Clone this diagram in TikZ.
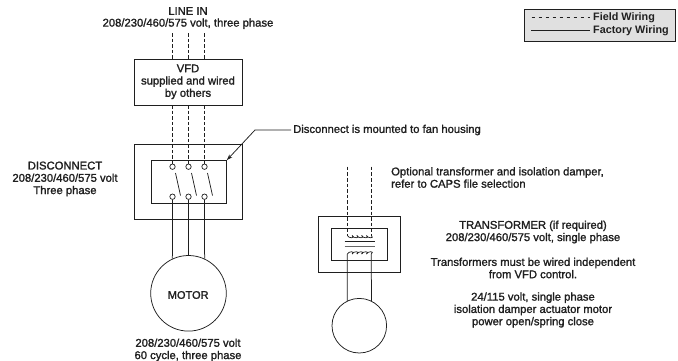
\documentclass[tikz,border=0pt]{standalone}
\usepackage{fontspec}
\setmainfont[FakeBold=1.5]{Liberation Sans}
\newfontfamily\legfont{Liberation Sans}
\usetikzlibrary{arrows.meta,calc}
\colorlet{ink}{black!88}
\tikzset{x=1pt,y=-1pt,
 wire/.style={line width=0.75pt,ink},
 fwire/.style={wire,dash pattern=on 3.6pt off 2pt},
 boxs/.style={draw=ink,line width=0.75pt,rectangle,inner sep=0pt},
 term/.style={circle,draw=ink,line width=0.7pt,fill=white,minimum size=5.4pt,inner sep=0pt},
 lab/.style={font=\fontsize{11.25}{12.3}\selectfont,text=ink,align=center,inner sep=0pt},
 labl/.style={lab,align=left,anchor=west},
 legl/.style={font=\legfont\bfseries\fontsize{10.8}{12}\selectfont,text=ink,anchor=west,inner sep=0pt},
 disc/.style={circle,draw=ink,line width=0.75pt,inner sep=0pt}}
\begin{document}
\begin{tikzpicture}
\useasboundingbox (0,0) rectangle (678,360);
% legend
\node[boxs,fill=black!12,minimum width=151pt,minimum height=31.7pt,anchor=north west] (legend) at (524,9) {};
\coordinate (la) at (531.5,17.7); \coordinate (lb) at (590,17.7);
\coordinate (lc) at (531,30.7); \coordinate (ld) at (590,30.7);
\draw[wire,dash pattern=on 3.6pt off 3.4pt] (la)--(lb);
\draw[wire] (lc)--(ld);
\node[legl] (lfield) at (593,18) {Field Wiring};
\node[legl] (lfact) at (593,31) {Factory Wiring};
% texts
\node[lab] (linein) at (188,11) {LINE IN};
\node[lab] (linev) at (188,23.7) {208/230/460/575 volt, three phase};
% VFD
\node[boxs,minimum width=108pt,minimum height=45.5pt] (vfd) at (188.7,82.3) {};
\node[lab] (vfdt) at (188,81.8) {VFD\\supplied and wired\\by others};
% disconnect
\node[boxs,minimum width=108pt,minimum height=75.7pt] (dout) at (188.7,182) {};
\node[boxs,minimum width=75.5pt,minimum height=43pt] (din) at (188.7,182) {};
\foreach \n/\x in {a/172.5,b/188.5,c/204.5}{
 \coordinate (in\n) at (\x,33);
 \coordinate (vt\n) at (\x,59.7);
 \coordinate (vb\n) at (\x,105);
 \node[term] (t\n) at (\x,166.7) {};
 \node[term] (b\n) at (\x,196.7) {};
 \coordinate (s\n) at (\x+3,173);
 \coordinate (e\n) at (\x+8,195.5);
 \draw[fwire] (in\n)--(vt\n);
 \draw[fwire] (vb\n)--(t\n);
 \draw[wire] (s\n)--(e\n);
}
% motor
\node[disc,minimum size=75.6pt] (motor) at (188.5,293.3) {};
\node[lab,font=\fontsize{11}{13}\selectfont] (motort) at (188.2,295) {MOTOR};
\draw[wire] (ba)--(motor.115);
\draw[wire] (bb)--(motor.90);
\draw[wire] (bc)--(motor.65);
\node[lab] (motl) at (188,350) {208/230/460/575 volt\\60 cycle, three phase};
% disconnect labels
\node[lab] (dl) at (65,179) {DISCONNECT\\208/230/460/575 volt\\Three phase};
\node[labl] (note) at (293,130) {Disconnect is mounted to fan housing};
\coordinate (n1) at (255,130);
\draw[wire,-{Stealth[length=6pt,width=4pt]}] ($(note.west)+(-2,0)$)--(n1)--(din.north east);
% transformer
\node[boxs,minimum width=81.3pt,minimum height=56.3pt] (tout) at (359.3,244.1) {};
\node[boxs,minimum width=56.7pt,minimum height=32.3pt] (tin) at (359.3,244.2) {};
\coordinate (d1) at (347.3,166.7);
\coordinate (d2) at (371.3,166.7);
\coordinate (u1) at (347.3,235.5);
\coordinate (u2) at (371.3,235.5);
\coordinate (l1) at (347.3,254);
\coordinate (l2) at (371.3,254);
\draw[fwire] (d1)--(u1);
\draw[fwire] (d2)--(u2);
\foreach \k in {0,1,2,3,4}{
 \draw[wire,line width=0.7pt] ($(u1)+(\k*4.8,0)$) .. controls +(0.8,3) and +(4,3) .. +(4.8,0);
 \draw[wire,line width=0.7pt] ($(l1)+(\k*4.8,0)$) .. controls +(0.8,-3) and +(4,-3) .. +(4.8,0);
}
\coordinate (c1a) at (344.5,241.7); \coordinate (c1b) at (374.5,241.7);
\coordinate (c2a) at (344.5,246.7); \coordinate (c2b) at (374.5,246.7);
\draw[wire] (c1a)--(c1b);
\draw[line width=1.1pt,black!60] (c2a)--(c2b);
\node[disc,minimum size=54.6pt] (small) at (359.3,325.7) {};
\draw[wire] (l1)--(small.116);
\draw[wire] (l2)--(small.64);
% right texts
\node[labl] (opt) at (391,177.5) {Optional transformer and isolation damper,\\refer to CAPS file selection};
\node[lab] (trt) at (533,232) {TRANSFORMER (if required)\\208/230/460/575 volt, single phase};
\node[lab] (trw) at (533,268) {Transformers must be wired independent\\from VFD control.};
\node[lab] (trd) at (533,310) {24/115 volt, single phase\\isolation damper actuator motor\\power open/spring close};
\end{tikzpicture}
\end{document}
